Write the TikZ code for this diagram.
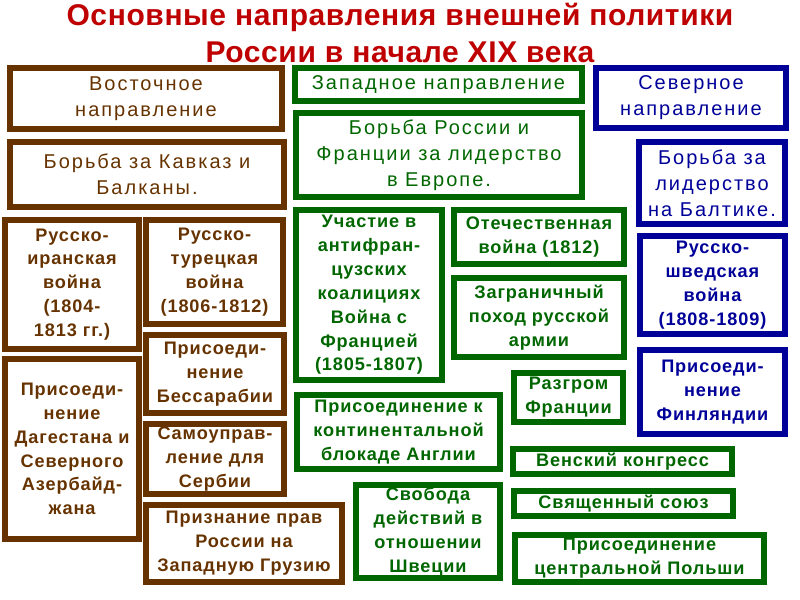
\documentclass[tikz,border=0pt]{standalone}
\usepackage{fontspec}
\setmainfont{Liberation Sans}
\newfontfamily\headfont[LetterSpace=10]{Liberation Sans}
\newfontfamily\itemfont[LetterSpace=5]{Liberation Sans}
\newfontfamily\titlefont[LetterSpace=2]{Liberation Sans}

\definecolor{eastcol}{RGB}{102,51,0}
\definecolor{westcol}{RGB}{0,102,0}
\definecolor{northcol}{RGB}{0,0,153}
\definecolor{titlecol}{RGB}{190,0,0}

\tikzset{every picture/.style={line width=0.75pt}}
\tikzset{
  frame/.style={line width=4.5pt},
  eastbox/.style={frame,draw=eastcol},
  westbox/.style={frame,draw=westcol},
  northbox/.style={frame,draw=northcol},
  headtxt/.style={inner sep=0pt,align=center,font=\headfont\fontsize{15}{19.5}\selectfont},
  itemtxt/.style={inner sep=0pt,align=center,font=\itemfont\bfseries\fontsize{13.6}{17.9}\selectfont},
  easthead/.style={headtxt,text=eastcol},
  westhead/.style={headtxt,text=westcol},
  northhead/.style={headtxt,text=northcol},
  eastitem/.style={itemtxt,text=eastcol},
  westitem/.style={itemtxt,text=westcol},
  northitem/.style={itemtxt,text=northcol}
}

\begin{document}
\begin{tikzpicture}[x=0.75pt,y=0.75pt,yscale=-1,xscale=1]
\useasboundingbox (0,0) rectangle (800,600);

% Title
\node [inner sep=0pt,align=center,text=titlecol,font=\titlefont\bfseries\fontsize{22.5}{27.75}\selectfont] (title) at (400,33) {Основные направления внешней политики\\России в начале XIX века};

%Shape: Rectangle -- east
\draw [eastbox] (10,68) rectangle node [easthead] (vost) {Восточное\\направление} (282,129);
%Shape: Rectangle
\draw [eastbox] (10,142) rectangle node [easthead] (kavkaz) {Борьба за Кавказ и\\Балканы.} (284,207);
%Shape: Rectangle
\draw [eastbox] (5,220) rectangle node [eastitem] (iran) {Русско-\\иранская\\война\\(1804-\\1813 гг.)} (139,349);
%Shape: Rectangle
\draw [eastbox] (146,220) rectangle node [eastitem] (turk) {Русско-\\турецкая\\война\\(1806-1812)} (283,324);
%Shape: Rectangle
\draw [eastbox] (5,359) rectangle node [eastitem] (dagest) {Присоеди-\\нение\\Дагестана и\\Северного\\Азербайд-\\жана} (139,539);
%Shape: Rectangle
\draw [eastbox] (146,335) rectangle node [eastitem] (bessar) {Присоеди-\\нение\\Бессарабии} (284,413);
%Shape: Rectangle
\draw [eastbox] (146,424) rectangle node [eastitem] (serb) {Самоуправ-\\ление для\\Сербии} (284,494);
%Shape: Rectangle
\draw [eastbox] (146,505) rectangle node [eastitem] (gruz) {Признание прав\\России на\\Западную Грузию} (342,582);

%Shape: Rectangle -- west
\draw [westbox] (295,68) rectangle node [westhead] (zapad) {Западное направление} (582,101);
%Shape: Rectangle
\draw [westbox] (296,113) rectangle node [westhead] (evropa) {Борьба России и\\Франции за лидерство\\в Европе.} (582,197);
%Shape: Rectangle
\draw [westbox] (296,210) rectangle node [westitem] (koal) {Участие в\\антифран-\\цузских\\коалициях\\Война с\\Францией\\(1805-1807)} (442,380);
%Shape: Rectangle
\draw [westbox] (454,210) rectangle node [westitem] (otech) {Отечественная\\война (1812)} (624,264);
%Shape: Rectangle
\draw [westbox] (454,278) rectangle node [westitem] (pohod) {Заграничный\\поход русской\\армии} (624,357);
%Shape: Rectangle
\draw [westbox] (514,373) rectangle node [westitem] (razgrom) {Разгром\\Франции} (623,422);
%Shape: Rectangle
\draw [westbox] (297,395) rectangle node [westitem] (blokada) {Присоединение к\\континентальной\\блокаде Англии} (500,469);
%Shape: Rectangle
\draw [westbox] (513,449) rectangle node [westitem] (vena) {Венский конгресс} (732,474);
%Shape: Rectangle
\draw [westbox] (356,485) rectangle node [westitem] (shvecia) {Свобода\\действий в\\отношении\\Швеции} (500,578);
%Shape: Rectangle
\draw [westbox] (514,491) rectangle node [westitem] (soyuz) {Священный союз} (733,516);
%Shape: Rectangle
\draw [westbox] (515,535) rectangle node [westitem] (polsha) {Присоединение\\центральной Польши} (764,582);

%Shape: Rectangle -- north
\draw [northbox] (596,68) rectangle node [northhead] (sever) {Северное\\направление} (786,128);
%Shape: Rectangle
\draw [northbox] (639,142) rectangle node [northhead] (baltika) {Борьба за\\лидерство\\на Балтике.} (785,224);
%Shape: Rectangle
\draw [northbox] (640,236) rectangle node [northitem] (shved) {Русско-\\шведская\\война\\(1808-1809)} (785,334);
%Shape: Rectangle
\draw [northbox] (640,350) rectangle node [northitem] (finl) {Присоеди-\\нение\\Финляндии} (785,434);

\end{tikzpicture}
\end{document}
